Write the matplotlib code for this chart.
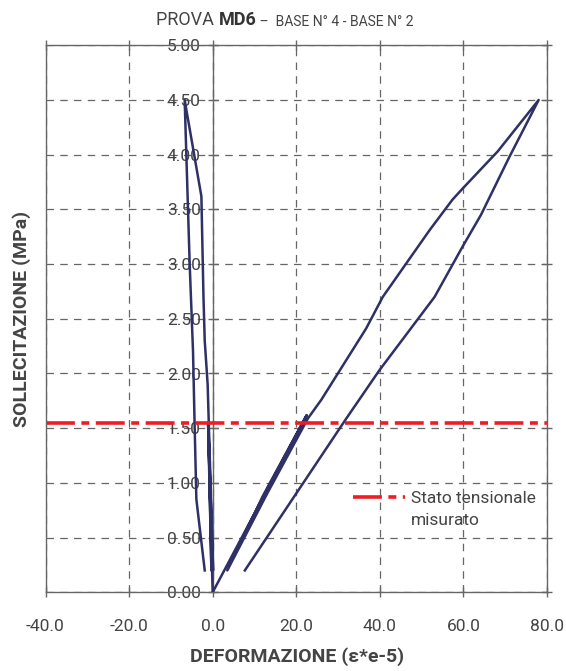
import matplotlib
matplotlib.use("Agg")
import matplotlib.pyplot as plt
from matplotlib.ticker import MultipleLocator, FormatStrFormatter

plt.rcParams['font.family'] = ['Roboto', 'DejaVu Sans']

# loading cycles (strain e-5, stress MPa)
base4_x = [0, 10, 22.5, 12, 3.5, 13, 22.8, 26, 36.7, 40.7, 51.9, 57.4, 59.8, 68.2,
           78.0, 71.0, 64.2, 59.8, 53.1, 39.9, 32.0, 7.7]
base4_y = [0, 0.72, 1.62, 0.88, 0.2, 0.9, 1.59, 1.76, 2.41, 2.70, 3.31, 3.59, 3.69, 4.03,
           4.5, 3.98, 3.45, 3.16, 2.70, 2.03, 1.59, 0.2]

base2_x = [0, -1.1, -0.3, -1.0, 0.1, -1.2, -1.9, -2.2, -2.7, -6.7, -6.3, -5.5, -4.7,
           -4.3, -3.9, -1.9]
base2_y = [0, 1.55, 0.2, 1.5, 0.2, 1.9, 2.3, 2.7, 3.62, 4.5, 4.0, 3.0, 2.2, 1.5, 0.85, 0.2]

stato_tensionale = 1.55

XLIM = (-40, 80)
YLIM = (0, 5)

navy = '#2e3066'
gray = '#666666'
txt = '#444444'

fig = plt.figure(figsize=(5.66, 6.71), dpi=100)
ax = fig.add_axes([45.5 / 566, 78.7 / 671, 501.5 / 566, 547 / 671])

ax.plot(base4_x, base4_y, color=navy, lw=1.8, solid_joinstyle='round', zorder=3)
ax.plot(base2_x, base2_y, color=navy, lw=1.8, solid_joinstyle='round', zorder=3)
ax.axhline(stato_tensionale, color='#ee1c25', lw=2.6,
           linestyle=(0, (8, 1.8, 2.2, 1.8)), label='Stato tensionale', zorder=4)

ax.set_xlim(*XLIM)
ax.set_ylim(*YLIM)
ax.xaxis.set_major_locator(MultipleLocator(20))
ax.yaxis.set_major_locator(MultipleLocator(0.5))
ax.xaxis.set_major_formatter(FormatStrFormatter('%.1f'))
ax.yaxis.set_major_formatter(FormatStrFormatter('%.2f'))

ax.grid(True, color=gray, lw=0.9, linestyle=(0, (6, 5)))
ax.set_axisbelow(True)

# y axis sits on x = 0, the frame is closed by a line at x = -40
ax.spines['left'].set_position(('data', 0))
for s in ax.spines.values():
    s.set_color(gray)
    s.set_linewidth(1.0)
ax.axvline(XLIM[0], color=gray, lw=1.0, clip_on=False, zorder=5)

ax.tick_params(axis='both', direction='inout', length=7, color=gray, width=1.0,
               labelcolor=txt, labelsize=12.5, top=True, right=True)
ax.tick_params(axis='x', pad=16)
ax.tick_params(axis='y', pad=5)

leg = ax.legend(loc='upper left', bbox_to_anchor=(0.613, 0.185), frameon=False,
                fontsize=12.5, handlelength=3.0, handletextpad=0.35, borderpad=0,
                borderaxespad=0, labelcolor=txt)
ax.annotate('misurato', xy=(0, 0), xycoords=leg.get_texts()[0], xytext=(0, -5),
            textcoords='offset points', ha='left', va='top', fontsize=12.5,
            color=txt, zorder=7)

fig.text(22 / 566, 1 - 319 / 671, 'SOLLECITAZIONE (MPa)', rotation=90,
         ha='center', va='center', fontsize=14, fontweight='bold', color=txt)
fig.text(297 / 566, 1 - 657 / 671, 'DEFORMAZIONE (ε*e-5)',
         ha='center', va='center', fontsize=14, fontweight='bold', color=txt)

# title in three pieces: plain, bold, small
t1 = fig.text(156 / 566, 1 - 25 / 671, 'PROVA ', ha='left', va='baseline',
              fontsize=13, color=txt)
t2 = ax.annotate('MD6', xy=(1, 0), xycoords=t1, va='bottom', ha='left',
                 fontsize=13, fontweight='bold', color='#333333', annotation_clip=False)
ax.annotate(' –  BASE N° 4 - BASE N° 2', xy=(1, 0), xycoords=t2, va='bottom', ha='left',
            fontsize=10, color=txt, annotation_clip=False)

fig.savefig('out.png', dpi=100)
